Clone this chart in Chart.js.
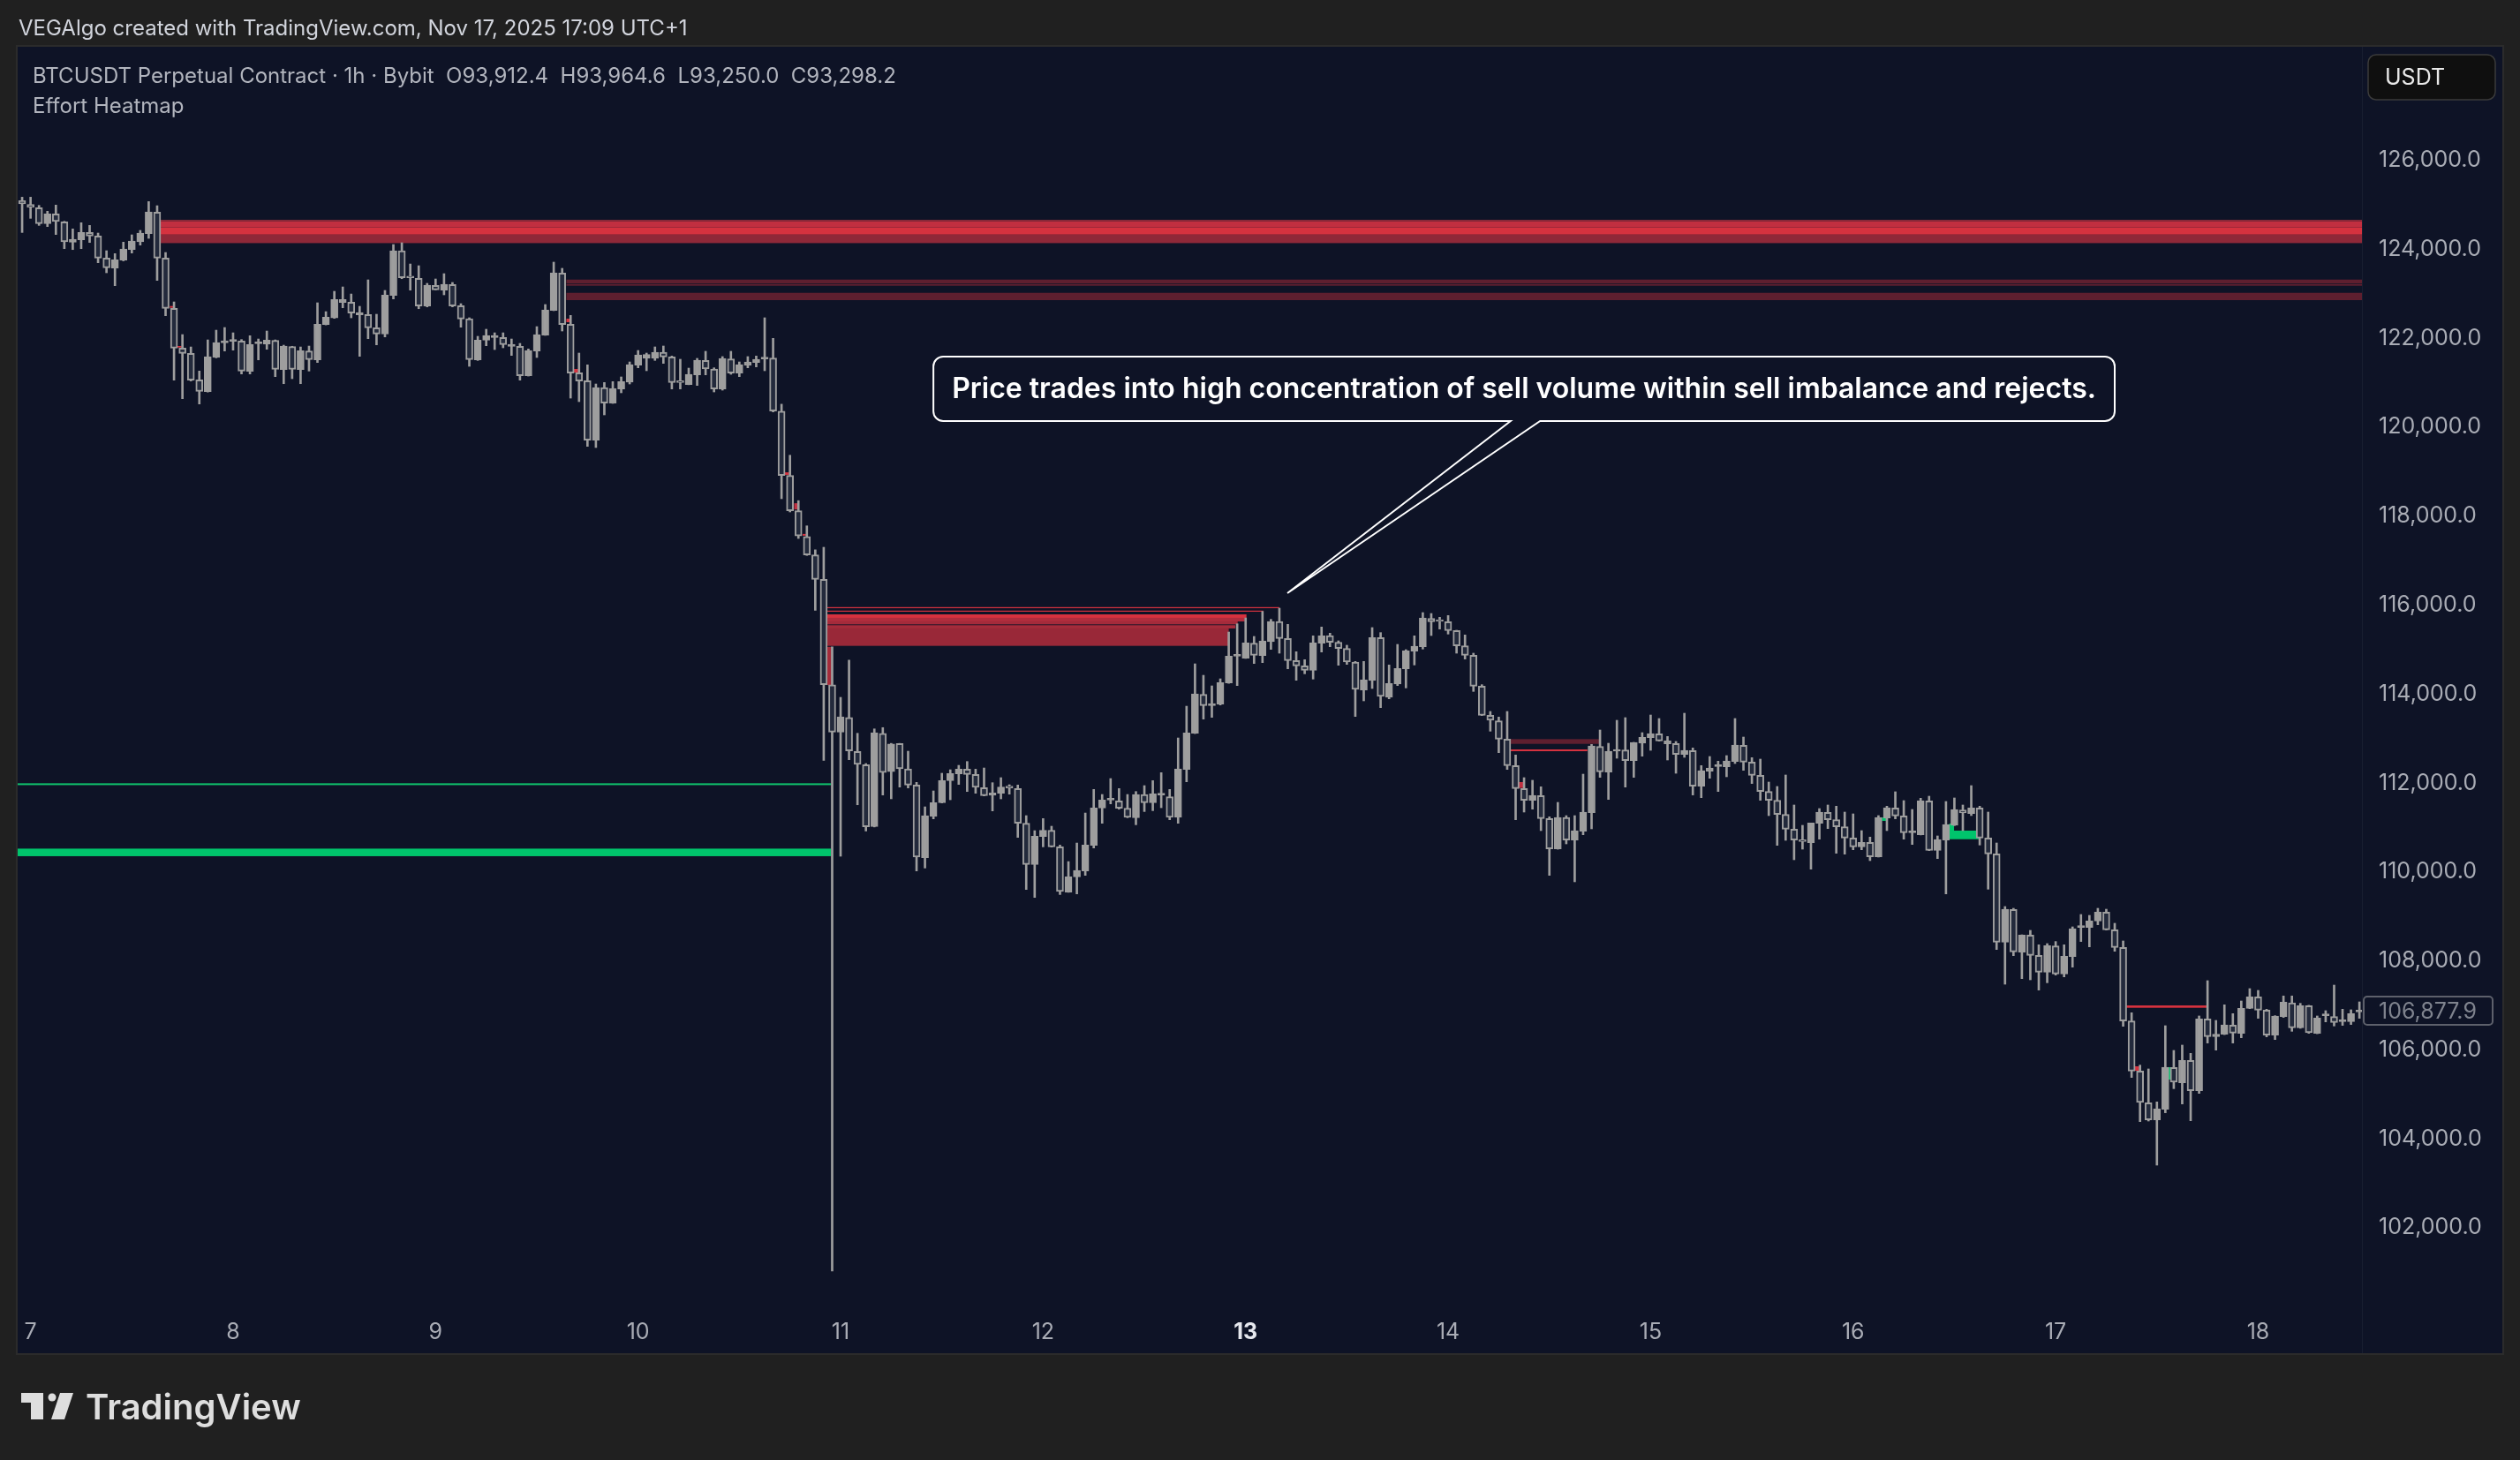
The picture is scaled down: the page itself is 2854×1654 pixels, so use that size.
<!DOCTYPE html>
<html>
<head>
<meta charset="utf-8">
<script src="https://cdn.jsdelivr.net/npm/chart.js@4.4.1/dist/chart.umd.min.js"></script>
<style>
  html, body { margin: 0; padding: 0; width: 2854px; height: 1654px; overflow: hidden; background: #202020; }
  #pane { position: absolute; left: 18px; top: 51px; width: 2814px; height: 1480px; border: 2px solid #2b2b2b; background: #0e1326; }
  #chart { position: absolute; left: 0; top: 0; }
  #overlay { position: absolute; left: 0; top: 0; pointer-events: none; }
</style>
</head>
<body>
<div id="pane"><canvas id="chart" width="2814" height="1480"></canvas></div>
<svg id="overlay" width="2854" height="1654" font-family="Inter, 'Noto Sans', sans-serif">
  <text x="21" y="40" font-size="24" fill="#d1d4dc">VEGAlgo created with TradingView.com, Nov 17, 2025 17:09 UTC+1</text>
  <text x="37" y="94" font-size="24" fill="#b2b5be" xml:space="preserve">BTCUSDT Perpetual Contract · 1h · Bybit  O93,912.4  H93,964.6  L93,250.0  C93,298.2</text>
  <text x="37" y="128" font-size="24" fill="#b2b5be">Effort Heatmap</text>
  <rect x="2682" y="62" width="144" height="51" rx="9" fill="#0f0f0f" stroke="#3b3b3b" stroke-width="1.5"/>
  <text x="2701" y="96" font-size="25" fill="#e8e8e8">USDT</text>
  <g fill="#dedede">
    <path d="M24 1578 H49 V1608 H35 V1589 H24 Z"/>
    <circle cx="59" cy="1583" r="4.5"/>
    <path d="M68 1578 H83 L73 1608 H58 Z"/>
    <text x="97" y="1608" font-size="40" font-weight="600">TradingView</text>
  </g>
</svg>
<script>
// ---------------------------
// Data (BTCUSDT 1h candles)
// ---------------------------
const startHour = -1; // first candle is Nov 6, 23:00

const opens = [
  125094,125008,124935,124578,124796,124618,124161,124214,124379,124300,123804,123579,
  123757,123995,124168,124353,124836,123804,122672,121779,121660,121064,120800,121567,
  121898,121931,121938,121256,121878,121865,121951,121296,121812,121296,121713,121514,
  122308,122460,122804,122811,122527,122533,122235,122096,122963,123969,123387,123347,
  122725,123188,123083,123209,122732,122441,121515,121958,122018,122018,121819,121819,
  121157,121713,122071,122626,123467,122315,121224,121045,119708,120893,120542,120860,
  121012,121396,121548,121548,121687,121581,121038,120959,121177,121502,121310,120860,
  121535,121217,121389,121455,121535,121554,120362,118916,118122,117541,117130,116577,
  114209,113145,113472,112706,112408,111018,113117,112252,112886,112317,111953,110319,
  111245,111556,112052,112204,112310,112191,111893,111721,111768,111907,111874,111093,
  110166,110795,110934,110563,109544,109888,110021,110596,111437,111615,111596,111430,
  111218,111741,111556,111728,111688,111225,112304,113118,113991,113740,113773,114249,
  114851,114805,115143,114865,115176,115633,115249,114752,114633,114534,115143,115315,
  115163,115024,114719,114091,114303,115269,113925,114223,114567,114964,115063,115699,
  115639,115626,115427,115083,114872,114177,113522,113396,112986,112390,111874,111610,
  111715,111199,110518,111226,110716,110915,111332,112820,112245,112715,112741,112503,
  112893,113019,113105,112880,112887,112642,112728,111927,112265,112370,112364,112483,
  112847,112470,112172,111808,111610,111292,110961,110716,110657,111093,111338,111173,
  111014,110763,110564,110663,110339,111213,111438,111259,110882,110835,111596,110485,
  110716,111047,111391,111312,111438,110763,110405,108420,109155,108195,108579,108122,
  107745,108334,107706,108096,108751,108751,108897,109095,108698,108301,106647,105522,
  104808,104424,104662,105602,105257,105760,105079,106693,106296,106349,106554,106369,
  106932,107190,106892,106330,106746,107057,106495,106991,106369,106766,106746,106634,
  106634,106852
];
const highs = [
  125173,125173,124988,124856,124995,124630,124459,124598,124538,124366,123969,123903,
  124161,124326,124426,125074,124981,123929,122818,122083,121805,121263,121964,122182,
  122242,122123,121971,122057,121984,122163,121964,121845,121820,121805,121825,122798,
  122599,123056,123155,122996,122718,123314,122540,123076,124108,124148,123671,123632,
  123235,123334,123453,123255,122778,122461,122044,122203,122123,122123,121984,121885,
  121760,122262,122759,123712,123573,122514,121667,121402,120972,121005,121025,121131,
  121468,121726,121667,121806,121826,121601,121528,121329,121548,121707,121336,121588,
  121707,121468,121588,121601,122461,121998,120518,119370,118349,117782,117243,117300,
  115060,113925,114762,113117,112436,113216,113245,112890,112890,112714,112013,111463,
  111821,112218,112297,112396,112482,112310,112337,112006,112119,111960,111953,111265,
  110927,111199,111027,110603,110232,110649,111324,111854,111741,112099,111874,111741,
  111807,111940,112052,112231,111854,113012,113726,114679,114421,114183,114342,115394,
  115579,115711,115295,115858,115679,115930,115566,114951,114772,115308,115507,115368,
  115196,115097,114733,114733,115494,115381,114653,115116,114997,115308,115831,115811,
  115725,115765,115434,115328,114918,114210,113608,113482,113608,112629,112119,112060,
  111914,111239,111563,111265,111265,112198,112867,113191,112893,113409,113469,112913,
  113131,113528,113449,113045,112933,113568,112787,112390,112595,112490,112615,113449,
  113032,112569,112536,112020,111921,112179,111504,111047,111100,111424,111504,111477,
  111345,111305,110928,110782,111266,111477,111802,111603,111404,111656,111702,110809,
  111583,111663,111504,111940,111477,111345,110650,109221,109181,108585,108685,108361,
  108387,108434,108361,108764,109042,109022,109181,109161,108844,108447,106832,105655,
  105569,104827,106541,105985,106105,105919,106760,107554,106660,107011,106812,107097,
  107375,107335,106912,106766,107210,107210,107044,107000,106760,106879,107454,106912,
  106899,107077
];
const lows = [
  124379,124697,124538,124512,124333,124015,123995,124015,124154,123698,123473,123182,
  123740,123916,124095,124247,123301,122507,121058,120641,121038,120522,120790,121560,
  121713,121733,121197,121197,121514,121752,121137,120978,121091,120978,121263,121455,
  122300,122447,122685,122460,121594,121991,121852,122030,122884,123340,123082,122665,
  122705,123089,122977,122706,122249,121369,121501,121832,121746,121786,121614,121058,
  121150,121568,122065,122620,122163,120654,120575,119569,119543,120277,120535,120774,
  120972,121336,121270,121502,121435,120860,120860,120955,120939,121177,120793,120833,
  121190,121137,121336,121356,121270,120343,118392,118094,117498,117116,115882,112507,
  101022,110352,112522,111509,110919,111010,111728,111643,111907,111887,110021,110087,
  111192,111550,111622,111966,111807,111768,111708,111371,111642,111748,110775,109604,
  109425,110563,110557,109491,109540,109505,109922,110537,111093,111529,111410,111218,
  111060,111357,111377,111443,111172,111093,112026,113110,113435,113475,113753,114240,
  114190,114800,114686,114706,115004,114918,114567,114309,114455,114336,114944,115063,
  114647,114666,113495,113846,114124,113694,113892,114190,114137,114653,115011,115315,
  115461,115348,114918,114786,114058,113515,113164,112681,112304,111173,111345,111411,
  110928,109922,110510,110630,109777,110835,110968,112126,111629,112556,111907,112126,
  112602,112734,112940,112516,112218,112576,111729,111669,112106,111808,112139,112437,
  112284,111987,111610,111265,110597,110710,110273,110511,110061,110736,110974,110419,
  110399,110498,110498,110253,110333,110928,111193,110736,110617,110830,110478,110299,
  109505,111040,110928,111266,110604,109611,108255,107474,108116,107600,107573,107342,
  107507,107679,107639,107858,108434,108314,108811,108692,108215,106528,105377,104384,
  104397,103405,104583,105125,104781,104404,105019,106151,105992,106340,106151,106270,
  106925,106707,106290,106230,106727,106415,106482,106369,106360,106627,106535,106548,
  106568,106707
];
const closes = [
  125021,124942,124578,124796,124624,124168,124227,124379,124300,123804,123585,123764,
  124009,124187,124366,124843,123804,122672,121779,121660,121058,120806,121587,121904,
  121944,121971,121263,121858,121904,121957,121302,121825,121302,121719,121521,122315,
  122474,122871,122871,122566,122579,122235,122096,122970,123969,123360,123360,122725,
  123195,123089,123215,122726,122434,121521,121958,122064,122064,121859,121865,121157,
  121726,122084,122640,123473,122309,121217,121038,119708,120893,120542,120873,121025,
  121409,121627,121634,121687,121581,121005,121005,121190,121508,121310,120860,121548,
  121217,121409,121468,121528,121548,120363,118916,118122,117555,117130,116577,114209,
  113145,113486,112720,112416,111013,113131,112237,112876,112317,111953,110332,111265,
  111556,112052,112211,112310,112191,111900,111715,111774,111907,111887,111093,110166,
  110802,110934,110563,109558,109888,110034,110603,111437,111615,111629,111430,111225,
  111741,111556,111755,111741,111225,112317,113124,114004,113740,113786,114256,114851,
  114864,115149,114872,115196,115633,115249,114752,114633,114534,115149,115308,115163,
  115024,114719,114104,114322,115269,113945,114236,114574,114971,115077,115712,115626,
  115633,115427,115083,114872,114177,113522,113409,112986,112390,111874,111610,111722,
  111199,110518,111226,110716,110928,111345,112834,112251,112715,112741,112503,112913,
  113026,113112,112946,112946,112642,112734,111927,112278,112337,112384,112496,112853,
  112470,112172,111808,111610,111292,110961,110716,110683,111100,111345,111173,111014,
  110763,110564,110663,110339,111226,111444,111259,110882,110908,111603,110485,110730,
  111067,111404,111325,111438,110763,110405,108420,109161,108202,108579,108122,107745,
  108341,107706,108103,108725,108778,108897,109095,108698,108301,106647,105522,104814,
  104424,104675,105608,105271,105760,105079,106693,106296,106349,106561,106376,106932,
  107190,106892,106330,106760,107071,106495,106991,106382,106713,106779,106614,106647,
  106812,106877.9
];

// time axis (hours from Nov 7, 00:00) and price axis
const dayTicks = [0, 24, 48, 72, 96, 120, 144, 168, 192, 216, 240, 264];
const dayLabels = ['7', '8', '9', '10', '11', '12', '13', '14', '15', '16', '17', '18'];
const boldDay = '13';
const priceTicks = [102000, 104000, 106000, 108000, 110000, 112000, 114000,
                    116000, 118000, 120000, 122000, 124000, 126000];

// Effort Heatmap zones: hour range, price range, kind
const zoneFrom = [15.4, 15.4, 15.4, 15.4, 63.5, 63.5, 63.5,
                  94.4, 94.4, 94.4, 94.4, 94.4, 94.4, 94.4, 94.4,
                  175.4, 175.4, 176.2, 227.4, 227.4, 219.4,
                  248.4, 249.4, 253.3, -2, -2,
                  89.4, 90.5, 91.5, 63.5, 64.4, 16.5, 17.4];
const zoneTo = [280, 280, 280, 280, 280, 280, 280,
                148.0, 146.1, 144.1, 143.9, 143.06, 142.8, 142.0, 94.96,
                185.9, 184.5, 176.9, 230.9, 227.96, 219.9,
                257.9, 249.9, 253.6, 94.85, 94.85,
                89.9, 90.9, 91.9, 63.9, 64.9, 16.9, 17.9];
const zoneTop = [124664, 124630, 124495, 124331, 123320, 123221, 123022,
                 115954, 115875, 115791, 115712, 115632, 115548, 115474, 115060,
                 112986, 112754, 112020, 110928, 111087, 111226,
                 106997, 105628, 105608, 111992, 110523,
                 118985, 118290, 117600, 122441, 121310, 122725, 121826];
const zoneBottom = [124630, 124495, 124331, 124140, 123235, 123181, 122858,
                    115934, 115855, 115712, 115632, 115565, 115474, 115083, 114200,
                    112879, 112714, 111887, 110735, 110928, 111147,
                    106944, 105529, 105330, 111952, 110353,
                    118928, 118150, 117560, 122362, 121230, 122685, 121792];
const zoneKind = ['edge', 'mid', 'hot', 'low', 'dim', 'dim', 'dim',
                  'hot', 'hot', 'hot', 'mid2', 'warm', 'warm', 'deep', 'warm',
                  'dim', 'hot', 'mid', 'buy', 'buy', 'buy',
                  'hot', 'hot', 'buy', 'buyLine', 'buy',
                  'hot', 'mid', 'hot', 'hot', 'hot', 'hot', 'hot'];

// Callout note (anchored in hours / price)
const noteText = 'Price trades into high concentration of sell volume within sell imbalance and rejects.';
const noteTip = { hour: 148.95, price: 116268 };
const noteBox = { fromHour: 107.0, toHour: 247.0, top: 121587, bottom: 120138, notchA: 175.4, notchB: 178.9 };

// ---------------------------
// Styles
// ---------------------------
const BG = '#0e1326';
const CANDLE = '#9e9e9e';
const HOLLOW = '#232a3c';
const zoneColors = {
  edge: '#8c2a3a', mid: '#c12f40', hot: '#d5323f', low: '#8f2838', dim: '#5e1f2f',
  mid2: '#b02d3d', warm: '#a52b3b', deep: '#992838', buy: '#00c46c', buyLine: '#0fc26c'
};
const FONT = 'Inter, "Noto Sans", sans-serif';
const fmtPrice = v => v.toLocaleString('en-US', { minimumFractionDigits: 1, maximumFractionDigits: 1 });

const hours = opens.map((_, k) => startHour + k);
const bodies = hours.map((h, k) => ({ x: h, y: [opens[k], closes[k]] }));
const wicks = hours.map((h, k) => ({ x: h, y: [lows[k], highs[k]] }));
const bodyFill = hours.map((h, k) => closes[k] >= opens[k] ? CANDLE : HOLLOW);

// ---------------------------
// Plugins
// ---------------------------
const zonePlugin = {
  id: 'zones',
  beforeDatasetsDraw(chart) {
    const { ctx, chartArea: a, scales: { x, y } } = chart;
    ctx.save();
    ctx.beginPath();
    ctx.rect(a.left, a.top, a.right - a.left, a.bottom - a.top);
    ctx.clip();
    zoneFrom.forEach((f, k) => {
      const x0 = x.getPixelForValue(f);
      const x1 = x.getPixelForValue(zoneTo[k]);
      const y0 = y.getPixelForValue(zoneTop[k]);
      const y1 = y.getPixelForValue(zoneBottom[k]);
      ctx.fillStyle = zoneColors[zoneKind[k]];
      ctx.fillRect(x0, y0, x1 - x0, Math.max(1.2, y1 - y0));
    });
    ctx.restore();
  }
};

const overlayPlugin = {
  id: 'overlay',
  afterDraw(chart) {
    const { ctx, chartArea: a, scales: { x, y } } = chart;
    ctx.save();

    // separator between plot and price scale
    ctx.fillStyle = '#181e30';
    ctx.fillRect(a.right, 0, 1, chart.height);

    // callout
    const L = x.getPixelForValue(noteBox.fromHour), R = x.getPixelForValue(noteBox.toHour);
    const T = y.getPixelForValue(noteBox.top), B = y.getPixelForValue(noteBox.bottom);
    const nA = x.getPixelForValue(noteBox.notchA), nB = x.getPixelForValue(noteBox.notchB);
    const tx = x.getPixelForValue(noteTip.hour), ty = y.getPixelForValue(noteTip.price);
    const r = 11;
    ctx.beginPath();
    ctx.moveTo(L + r, T);
    ctx.lineTo(R - r, T);
    ctx.arcTo(R, T, R, T + r, r);
    ctx.lineTo(R, B - r);
    ctx.arcTo(R, B, R - r, B, r);
    ctx.lineTo(nB, B);
    ctx.lineTo(tx, ty);
    ctx.lineTo(nA, B);
    ctx.lineTo(L + r, B);
    ctx.arcTo(L, B, L, B - r, r);
    ctx.lineTo(L, T + r);
    ctx.arcTo(L, T, L + r, T, r);
    ctx.closePath();
    ctx.fillStyle = BG;
    ctx.fill();
    ctx.strokeStyle = '#ffffff';
    ctx.lineWidth = 2;
    ctx.stroke();

    ctx.font = '600 30px ' + FONT;
    const w = ctx.measureText(noteText).width;
    const size = 30 * 1296 / w;
    ctx.font = '600 ' + size.toFixed(2) + 'px ' + FONT;
    ctx.fillStyle = '#ffffff';
    ctx.textAlign = 'center';
    ctx.textBaseline = 'middle';
    ctx.fillText(noteText, (L + R) / 2, (T + B) / 2 + 1);

    // last price label
    const last = closes[closes.length - 1];
    const py = y.getPixelForValue(last);
    ctx.beginPath();
    ctx.roundRect(a.right + 2, py - 16, 146, 32, 4);
    ctx.strokeStyle = '#5d606b';
    ctx.lineWidth = 2;
    ctx.stroke();
    ctx.font = '25px ' + FONT;
    ctx.fillStyle = '#7f838e';
    ctx.textAlign = 'left';
    ctx.fillText(fmtPrice(last), a.right + 19, py + 1);

    ctx.restore();
  }
};

// ---------------------------
// Chart
// ---------------------------
const chart = new Chart(document.getElementById('chart').getContext('2d'), {
  type: 'bar',
  data: {
    datasets: [
      {
        label: 'Body',
        data: bodies,
        order: 0,
        grouped: false,
        barThickness: 8,
        minBarLength: 2,
        borderWidth: 2,
        borderSkipped: false,
        borderColor: CANDLE,
        backgroundColor: bodyFill
      },
      {
        label: 'Wick',
        data: wicks,
        order: 1,
        grouped: false,
        barThickness: 2,
        borderWidth: 0,
        backgroundColor: CANDLE
      }
    ]
  },
  options: {
    responsive: false,
    animation: false,
    events: [],
    layout: { padding: 0 },
    plugins: {
      legend: { display: false },
      tooltip: { enabled: false }
    },
    scales: {
      x: {
        type: 'linear',
        offset: false,
        min: -1.53,
        max: 276.3,
        afterBuildTicks: s => { s.ticks = dayTicks.map(v => ({ value: v })); },
        afterFit: s => { s.height = 56; s.paddingLeft = 0; s.paddingRight = 0; },
        grid: { display: false, drawTicks: false },
        border: { display: false },
        ticks: {
          autoSkip: false,
          maxRotation: 0,
          padding: 17,
          callback: v => dayLabels[dayTicks.indexOf(v)],
          color: c => dayLabels[c.index] === boldDay ? '#e6e8ee' : '#a9acb5',
          font: c => ({ family: FONT, size: 25, weight: dayLabels[c.index] === boldDay ? '700' : '400' })
        }
      },
      y: {
        position: 'right',
        min: 100288,
        max: 128555,
        afterBuildTicks: s => { s.ticks = priceTicks.map(v => ({ value: v })); },
        afterFit: s => { s.width = 159; s.paddingTop = 0; s.paddingBottom = 0; },
        grid: { display: false, drawTicks: false },
        border: { display: false },
        ticks: {
          padding: 19,
          color: '#a9acb5',
          font: { family: FONT, size: 25 },
          callback: v => fmtPrice(v)
        }
      }
    }
  },
  plugins: [zonePlugin, overlayPlugin]
});
</script>
</body>
</html>
